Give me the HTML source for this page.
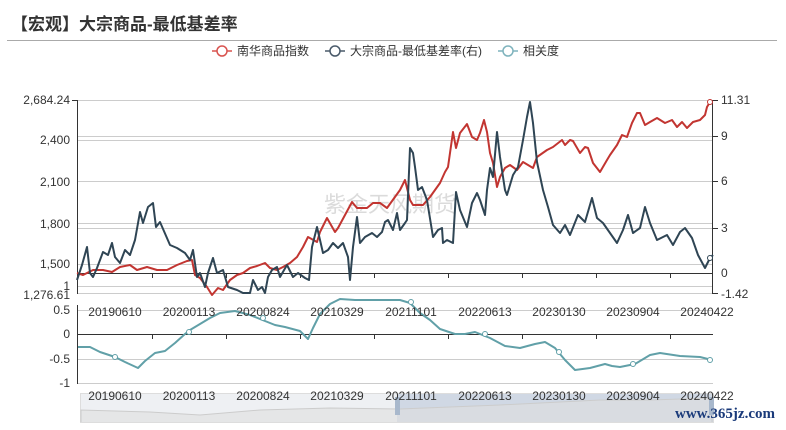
<!DOCTYPE html>
<html><head><meta charset="utf-8"><style>
body{margin:0;background:#fff;}
svg{display:block;font-family:"Liberation Sans","Noto Sans CJK SC",sans-serif;}
</style></head><body>
<svg width="786" height="430" viewBox="0 0 786 430">
<text x="11" y="30" font-size="17" font-weight="bold" fill="#333">【宏观】大宗商品-最低基差率</text>
<line x1="7" y1="40.5" x2="777" y2="40.5" stroke="#aaa" stroke-width="1"/>
<g font-size="12" fill="#333">
<line x1="212" y1="51" x2="232" y2="51" stroke="#d9534f" stroke-width="1.5"/><circle cx="222" cy="51" r="5" fill="#fff" stroke="#d9534f" stroke-width="1.5"/>
<text x="237" y="55">南华商品指数</text>
<line x1="325" y1="51" x2="345" y2="51" stroke="#4a5a6a" stroke-width="1.5"/><circle cx="335" cy="51" r="5" fill="#fff" stroke="#4a5a6a" stroke-width="1.5"/>
<text x="350" y="55">大宗商品-最低基差率(右)</text>
<line x1="498" y1="51" x2="518" y2="51" stroke="#7fb3bd" stroke-width="1.5"/><circle cx="508" cy="51" r="5" fill="#fff" stroke="#7fb3bd" stroke-width="1.5"/>
<text x="523" y="55">相关度</text>
</g>
<g stroke="#ccc" stroke-width="1">
<line x1="78" y1="100.5" x2="713" y2="100.5"/>
<line x1="78" y1="136.5" x2="713" y2="136.5"/>
<line x1="78" y1="140.5" x2="713" y2="140.5"/>
<line x1="78" y1="181.5" x2="713" y2="181.5"/>
<line x1="78" y1="223.5" x2="713" y2="223.5"/>
<line x1="78" y1="228.5" x2="713" y2="228.5"/>
<line x1="78" y1="264.5" x2="713" y2="264.5"/>
<line x1="78" y1="286.5" x2="713" y2="286.5"/>
<line x1="78" y1="293.5" x2="713" y2="293.5"/>
</g>
<line x1="78" y1="273.5" x2="713" y2="273.5" stroke="#333"/>
<line x1="77.5" y1="100" x2="77.5" y2="294" stroke="#333"/>
<line x1="712.5" y1="100" x2="712.5" y2="294" stroke="#333"/>
<g stroke="#333"><line x1="152.5" y1="273" x2="152.5" y2="278"/><line x1="226.5" y1="273" x2="226.5" y2="278"/><line x1="300.5" y1="273" x2="300.5" y2="278"/><line x1="374.5" y1="273" x2="374.5" y2="278"/><line x1="448.5" y1="273" x2="448.5" y2="278"/><line x1="522.5" y1="273" x2="522.5" y2="278"/><line x1="596.5" y1="273" x2="596.5" y2="278"/><line x1="670.5" y1="273" x2="670.5" y2="278"/>
<line x1="72" y1="100.5" x2="78" y2="100.5"/><line x1="713" y1="100.5" x2="718" y2="100.5"/><line x1="713" y1="136.5" x2="718" y2="136.5"/><line x1="713" y1="181.5" x2="718" y2="181.5"/><line x1="713" y1="228.5" x2="718" y2="228.5"/><line x1="713" y1="293.5" x2="718" y2="293.5"/></g>
<g font-size="12" fill="#333" text-anchor="end">
<text x="70" y="104">2,684.24</text><text x="70" y="144">2,400</text><text x="70" y="186">2,100</text><text x="70" y="228">1,800</text><text x="70" y="268">1,500</text><text x="70" y="290">1</text><text x="70" y="299">1,276.61</text>
</g>
<g font-size="12" fill="#333">
<text x="721" y="104">11.31</text><text x="721" y="140">9</text><text x="721" y="185">6</text><text x="721" y="232">3</text><text x="721" y="277">0</text><text x="721" y="298">-1.42</text>
</g>
<text x="390" y="212" font-size="22" fill="#ccc" fill-opacity="0.7" text-anchor="middle">紫金天风期货</text>
<polyline fill="none" stroke="#c23531" stroke-width="2" stroke-linejoin="round" points="77,273 83,275 93,270 103,270 112,272 120,267 130,265 137,270 147,267 157,270 167,270 177,265 187,261 192,260 195,275 200,278 207,287 212,295 218,288 223,290 230,280 237,275 243,273 250,268 257,266 265,263 270,268 277,270 283,267 290,263 297,257 303,247 308,237 317,242 320,232 327,218 335,232 338,228 345,215 352,202 357,208 367,208 373,203 380,203 387,208 400,190 405,180 410,200 413,205 423,205 430,197 440,183 445,172 448,167 453,132 456,148 460,133 467,124 472,137 477,140 480,133 484,120 487,132 490,153 493,163 497,187 500,177 505,168 510,165 517,170 523,162 533,168 537,157 547,150 553,147 562,140 565,145 570,140 573,141 580,153 585,147 588,148 593,163 600,172 607,160 610,155 617,145 622,135 627,137 632,123 637,113 640,113 645,125 650,122 657,118 665,123 672,120 677,127 682,122 687,128 693,122 700,120 705,115 707,107 710,102"/>
<polyline fill="none" stroke="#2f4554" stroke-width="2" stroke-linejoin="round" points="77,280 82,265 87,247 90,273 93,277 97,268 103,252 108,255 112,243 115,257 120,263 125,250 130,255 135,240 140,212 143,223 148,207 153,203 156,227 160,222 170,245 177,248 185,253 190,260 193,250 197,277 200,273 205,287 208,273 213,258 217,273 223,270 228,287 237,290 243,293 250,293 253,280 258,290 262,287 265,293 268,277 272,270 277,267 280,277 287,265 293,277 298,273 305,278 309,280 312,247 317,227 323,253 328,250 333,243 338,248 343,243 348,257 350,280 353,247 357,217 360,243 365,237 372,233 377,237 382,232 385,222 388,220 393,230 397,213 400,230 405,223 407,220 410,148 413,153 415,167 418,190 422,187 427,200 433,237 438,230 442,228 443,243 447,240 453,243 456,192 460,210 467,227 472,203 477,193 480,200 485,215 487,190 490,168 493,177 497,132 500,157 505,190 507,195 510,185 513,175 518,167 523,140 527,117 530,102 533,123 537,162 543,190 548,207 553,225 560,233 565,225 570,235 578,215 585,222 592,198 597,218 603,223 610,233 617,243 623,230 628,215 633,233 640,228 645,207 650,223 657,240 667,235 673,245 680,232 685,228 692,238 698,255 705,268 710,258 713,255"/>
<g fill="#fff" stroke-width="1"><circle cx="710" cy="102" r="2.5" stroke="#c23531"/><circle cx="710" cy="258" r="2.5" stroke="#2f4554"/></g>
<g stroke="#ccc"><line x1="78" y1="310.5" x2="713" y2="310.5"/><line x1="78" y1="359.5" x2="713" y2="359.5"/><line x1="78" y1="383.5" x2="713" y2="383.5"/></g>
<line x1="78" y1="334.5" x2="713" y2="334.5" stroke="#333"/>
<line x1="77.5" y1="305" x2="77.5" y2="384" stroke="#333"/>
<g stroke="#333"><line x1="152.5" y1="334" x2="152.5" y2="339"/><line x1="226.5" y1="334" x2="226.5" y2="339"/><line x1="300.5" y1="334" x2="300.5" y2="339"/><line x1="374.5" y1="334" x2="374.5" y2="339"/><line x1="448.5" y1="334" x2="448.5" y2="339"/><line x1="522.5" y1="334" x2="522.5" y2="339"/><line x1="596.5" y1="334" x2="596.5" y2="339"/><line x1="670.5" y1="334" x2="670.5" y2="339"/></g>
<g font-size="12" fill="#333" text-anchor="end"><text x="70" y="314">0.5</text><text x="70" y="338">0</text><text x="70" y="363">-0.5</text><text x="70" y="387">-1</text></g>
<polyline fill="none" stroke="#61a0a8" stroke-width="2" stroke-linejoin="round" points="78,347 90,347 100,352 115,357 125,362 138,368 145,361 155,353 165,351 175,343 185,334 190,330 200,324 210,318 220,313 235,311 250,315 265,321 275,325 285,327 300,331 308,339 313,328 320,314 330,304 340,299 355,300 375,300 400,300 410,303 420,313 430,320 440,329 455,334 465,334 475,332 490,338 505,346 520,348 535,344 545,342 555,348 565,360 575,370 590,368 605,364 612,366 620,367 635,364 650,355 660,353 680,356 700,357 712,360"/>
<g fill="#fff" stroke="#61a0a8"><circle cx="115" cy="357" r="2.5"/><circle cx="189" cy="332" r="2.5"/><circle cx="263" cy="318" r="2.5"/><circle cx="411" cy="302" r="2.5"/><circle cx="485" cy="334" r="2.5"/><circle cx="559" cy="352" r="2.5"/><circle cx="633" cy="364" r="2.5"/><circle cx="710" cy="360" r="2.5"/></g>
<rect x="80.5" y="393.5" width="633" height="29" fill="#eef0f3" stroke="#ddd"/>
<rect x="397" y="394" width="316" height="28" fill="#c8d2e0" fill-opacity="0.8"/>
<polyline fill="#e0e0e0" fill-opacity="0.6" stroke="#ccc" points="81,422 81,410 150,412 200,415 260,410 330,408 400,409 450,407 500,405 560,402 600,400 650,400 712,398 712,422"/>
<rect x="395" y="397" width="5" height="18" fill="#a8b8cc"/>
<rect x="709" y="397" width="5" height="18" fill="#a8b8cc"/>
<g font-size="12" fill="#333" text-anchor="middle">
<text x="115" y="316">20190610</text><text x="189" y="316">20200113</text><text x="263" y="316">20200824</text><text x="337" y="316">20210329</text><text x="411" y="316">20211101</text><text x="485" y="316">20220613</text><text x="559" y="316">20230130</text><text x="633" y="316">20230904</text><text x="707" y="316">20240422</text>
<text x="115" y="400">20190610</text><text x="189" y="400">20200113</text><text x="263" y="400">20200824</text><text x="337" y="400">20210329</text><text x="411" y="400">20211101</text><text x="485" y="400">20220613</text><text x="559" y="400">20230130</text><text x="633" y="400">20230904</text><text x="707" y="400">20240422</text>
</g>
<text x="775" y="418" font-size="15" font-family="Liberation Serif,serif" font-weight="bold" fill="#1a3a7a" text-anchor="end">www.365jz.com</text>
</svg>
</body></html>
